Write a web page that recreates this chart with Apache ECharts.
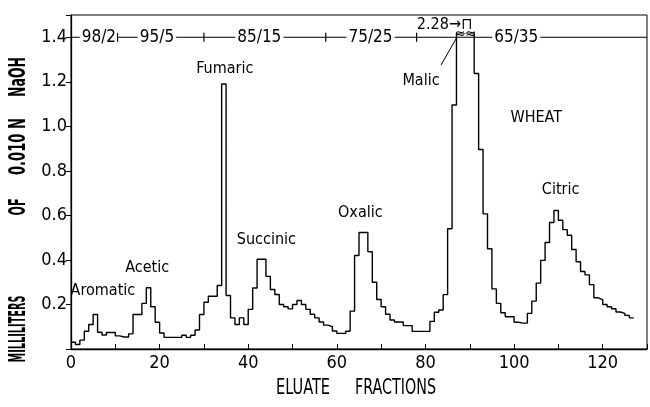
<!DOCTYPE html>
<html><head><meta charset="utf-8">
<script src="https://cdn.jsdelivr.net/npm/echarts@6/dist/echarts.min.js"></script>
<style>html,body{margin:0;padding:0;background:#fff}#c{width:650px;height:407px}</style>
</head><body><div id="c"></div>
<script>
// ---- data ----
const naohMl = [
 0.03,0.02,0.04,0.08,0.11,0.155,0.075,0.063,0.074,0.074,
 0.059,0.054,0.054,0.068,0.155,0.155,0.205,0.275,0.19,0.12,
 0.072,0.052,0.052,0.052,0.052,0.062,0.052,0.062,0.085,0.155,
 0.21,0.237,0.237,0.285,1.19,0.24,0.14,0.11,0.14,0.11,
 0.178,0.274,0.403,0.403,0.326,0.267,0.245,0.2,0.19,0.18,
 0.2,0.218,0.2,0.178,0.156,0.14,0.121,0.107,0.1,0.081,
 0.07,0.07,0.08,0.17,0.42,0.523,0.523,0.437,0.3,0.222,
 0.19,0.156,0.13,0.121,0.121,0.105,0.105,0.079,0.079,0.079,
 0.079,0.124,0.165,0.175,0.244,0.54,1.096,2.28,2.28,2.28,
 2.28,1.237,0.896,0.607,0.45,0.27,0.205,0.163,0.145,0.145,
 0.12,0.116,0.116,0.16,0.215,0.296,0.398,0.478,0.568,0.622,
 0.578,0.536,0.511,0.447,0.392,0.348,0.333,0.289,0.23,0.222,
 0.2,0.19,0.181,0.166,0.16,0.151,0.14
];
const fractions = naohMl.map((_, i) => i);
const offScaleCap = 1.42;        // off-scale peak drawn broken at top
const xTickLabels = [0, 20, 40, 60, 80, 100, 120];
const yTickLabels = [0.2, 0.4, 0.6, 0.8, 1.0, 1.2, 1.4];
const solventLevel = 1.4;
const solventLabels = ['98/2', '95/5', '85/15', '75/25', '65/35'];
const solventLabelAt = [6.3, 19.4, 42.5, 67.6, 100.5];
const solventChangeAt = [10.5, 30, 57.5, 78];
const acidNames = ['Aromatic', 'Acetic', 'Fumaric', 'Succinic', 'Oxalic', 'Malic', 'Citric', 'WHEAT'];
const acidLabelX = [7.2, 17.2, 34.7, 44.1, 65.3, 79.0, 110.5, 105.0];
const acidLabelY = [0.26, 0.364, 1.26, 0.49, 0.61, 1.205, 0.713, 1.04];
const malicLeader = [[83.5, 1.275], [87.1, 1.40]];
const offScaleNote = { text: '2.28\u2192\u2293', x: 84.3, y: 1.455 };
const breakMark = { text: '\u2248\u2248', x: 89, y: 1.415 };

// ---- chart ----
const narrow = '"DejaVu Sans Condensed","Liberation Sans Narrow",sans-serif';
const chart = echarts.init(document.getElementById('c'), null, { renderer: 'canvas' });

const stepData = fractions.map((f, i) => [f, Math.min(naohMl[i], offScaleCap)]);
stepData.push([fractions[fractions.length - 1] + 1, Math.min(naohMl[naohMl.length - 1], offScaleCap)]);

function fitScale(str, font, target) {
  const ctx = document.createElement('canvas').getContext('2d');
  ctx.font = font;
  return target / ctx.measureText(str).width;
}
const yTitleFont = 'bold 22px ' + narrow;
const yTitle = [['MILLILITERS', 329, 67], ['OF', 207, 17], ['0.010 N', 146.5, 57], ['NaOH', 77, 40]];
const xTitleFont = '21px ' + narrow;
const xTitle = [['ELUATE', 303, 54], ['FRACTIONS', 395.5, 81]];

const graphics = [];
yTitle.forEach(([t, cy, w]) => graphics.push({
  type: 'text', x: 18.5, y: cy, rotation: Math.PI / 2,
  scaleX: fitScale(t, yTitleFont, w), scaleY: 1.08,
  style: { text: t, font: yTitleFont, fill: '#000', align: 'center', verticalAlign: 'middle' }
}));
xTitle.forEach(([t, cx, w]) => graphics.push({
  type: 'text', x: cx, y: 388,
  scaleX: fitScale(t, xTitleFont, w), scaleY: 1.05,
  style: { text: t, font: xTitleFont, fill: '#000', align: 'center', verticalAlign: 'middle' }
}));

const labelStyle = { show: true, position: 'inside', formatter: '{b}', color: '#000',
  fontFamily: narrow, fontSize: 16, textBorderWidth: 0 };
const hidden = { color: 'rgba(0,0,0,0)', opacity: 1 };

chart.setOption({
  animation: false,
  backgroundColor: '#fff',
  grid: { left: 71, right: 2, top: 15, bottom: 58, show: true, borderColor: '#000', borderWidth: 1 },
  xAxis: {
    type: 'value', min: 0, max: 130, interval: 10,
    axisLine: { show: true, lineStyle: { color: '#000', width: 1.3 } },
    axisTick: { show: true, inside: true, length: 5, lineStyle: { color: '#000' } },
    splitLine: { show: false },
    axisLabel: { color: '#000', fontFamily: narrow, fontSize: 18, margin: 5,
      formatter: v => xTickLabels.includes(v) ? String(v) : '' }
  },
  yAxis: {
    type: 'value', min: 0, max: 1.5, interval: 0.2,
    axisLine: { show: true, lineStyle: { color: '#000', width: 1.3 } },
    axisTick: { show: true, inside: false, length: 5, lineStyle: { color: '#000' } },
    splitLine: { show: false },
    axisLabel: { color: '#000', fontFamily: narrow, fontSize: 18, margin: 4,
      formatter: v => { const f = yTickLabels.find(t => Math.abs(t - v) < 1e-6); return f ? f.toFixed(1) : ''; } }
  },
  graphic: graphics,
  series: [
    { type: 'line', step: 'end', data: stepData, symbol: 'none', z: 3,
      lineStyle: { color: '#000', width: 1.4 } },
    { type: 'line', data: [[0, solventLevel], [130, solventLevel]], symbol: 'none', z: 2,
      lineStyle: { color: '#000', width: 1 } },
    { type: 'scatter', z: 5, symbolSize: 1, itemStyle: hidden,
      data: solventLabels.map((n, i) => ({ name: n, value: [solventLabelAt[i], solventLevel] })),
      label: Object.assign({}, labelStyle, { backgroundColor: '#fff', padding: [0, 2], fontSize: 17 }) },
    { type: 'scatter', data: solventChangeAt.map(x => [x, solventLevel]), symbol: 'rect',
      symbolSize: [1.2, 9], itemStyle: { color: '#000', opacity: 1 }, z: 7 },
    { type: 'scatter', z: 5, symbolSize: 1, itemStyle: hidden,
      data: acidNames.map((n, i) => ({ name: n, value: [acidLabelX[i], acidLabelY[i]] })),
      label: labelStyle },
    { type: 'scatter', z: 6, symbolSize: 1, itemStyle: hidden,
      data: [{ name: offScaleNote.text, value: [offScaleNote.x, offScaleNote.y] }],
      label: Object.assign({}, labelStyle, { fontSize: 16, backgroundColor: '#fff', padding: [0, 1] }) },
    { type: 'scatter', z: 6, symbolSize: 1, itemStyle: hidden,
      data: [{ name: breakMark.text, value: [breakMark.x, breakMark.y] }],
      label: Object.assign({}, labelStyle, { fontSize: 14 }) },
    { type: 'line', data: malicLeader, symbol: 'none', z: 4, lineStyle: { color: '#000', width: 1 } }
  ]
});
</script></body></html>
